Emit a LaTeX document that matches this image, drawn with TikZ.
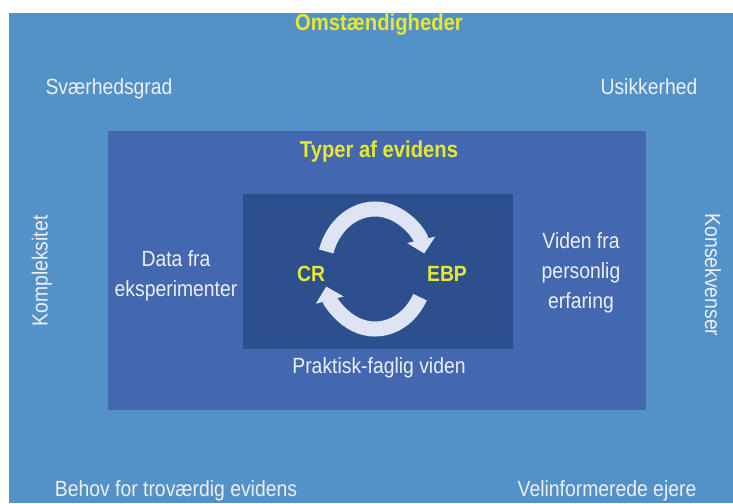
\documentclass[tikz,border=0pt]{standalone}
\usepackage{fontspec}
\setmainfont{Liberation Sans}[FakeStretch=0.88]
\usepackage{tikz}
\usetikzlibrary{arrows.meta, positioning, calc}
\usepackage{xcolor}
\definecolor{outerBlue}{RGB}{84,145,199}
\definecolor{midBlue}{RGB}{67,104,176}
\definecolor{innerBlue}{RGB}{44,80,142}
\definecolor{titleYellow}{RGB}{232,232,48}
\definecolor{textWhite}{RGB}{235,240,250}
\definecolor{arrowWhite}{RGB}{222,228,244}

\begin{document}
\begin{tikzpicture}[
    x=1pt, y=1pt,
    panel/.style={rectangle, inner sep=0pt, outer sep=0pt},
    label/.style={text=textWhite, font=\fontsize{22}{30}\selectfont, align=center, inner sep=0pt, anchor=base},
    title/.style={text=titleYellow, font=\bfseries\fontsize{23}{28}\selectfont, inner sep=0pt, anchor=base},
    cyclearrow/.style={draw=arrowWhite, line width=15pt, -{Triangle[width=28pt, length=14pt]}}
]
\useasboundingbox (0,0) rectangle (733,-503);

% Panels
\node[panel, fill=outerBlue, minimum width=724pt, minimum height=490pt] (outer) at (371,-258) {};
\node[panel, fill=midBlue, minimum width=538pt, minimum height=279pt] (middle) at (377,-270.5) {};
\node[panel, fill=innerBlue, minimum width=270pt, minimum height=155pt] (inner) at (378,-271.5) {};

% Outer texts
\node[title] (omst) at (379,-31) {Omstændigheder};
\node[label] (svaer) at (109,-94) {Sværhedsgrad};
\node[label] (usik) at (649,-94) {Usikkerhed};
\node[label, rotate=90, anchor=center] (kompl) at (42,-271) {Kompleksitet};
\node[label, rotate=-90, anchor=center] (konsek) at (713,-275) {Konsekvenser};
\node[label] (behov) at (176,-496) {Behov for troværdig evidens};
\node[label] (velinf) at (607,-496) {Velinformerede ejere};

% Middle texts
\node[title] (typer) at (379,-157) {Typer af evidens};
\node[label] (data) at (176,-296) {Data fra\\eksperimenter};
\node[label] (viden) at (581,-308) {Viden fra\\personlig\\erfaring};
\node[label] (prakt) at (379,-373) {Praktisk-faglig viden};

% Inner cycle
\coordinate (loop) at (375,-269);
\node[title, font=\bfseries\fontsize{22}{26}\selectfont] (cr) at (311,-281) {CR};
\node[title, font=\bfseries\fontsize{22}{26}\selectfont] (ebp) at (447,-281) {EBP};

\draw[cyclearrow] ([shift={(163:51pt and 60pt)}]loop) arc[start angle=163, end angle=15, x radius=51pt, y radius=60pt];
\draw[cyclearrow] ([shift={(-28:51pt and 60pt)}]loop) arc[start angle=-28, end angle=-163, x radius=51pt, y radius=60pt];

\end{tikzpicture}
\end{document}
